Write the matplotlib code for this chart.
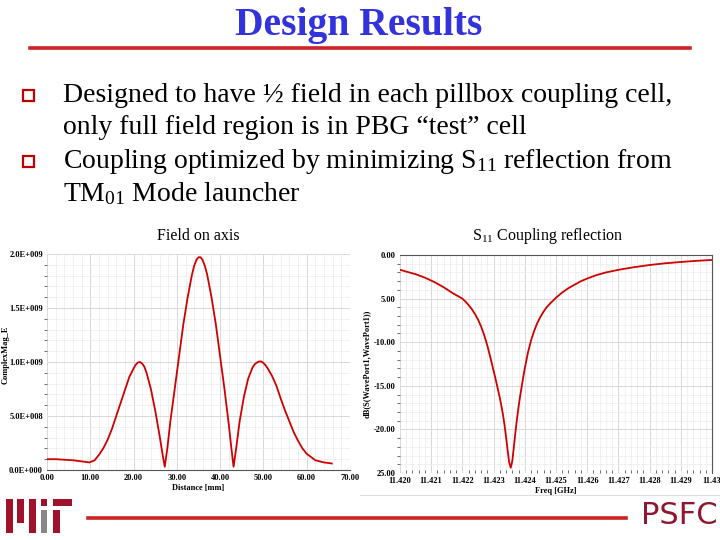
import matplotlib
matplotlib.use("Agg")
import matplotlib.pyplot as plt
from matplotlib.patches import Rectangle
from matplotlib.lines import Line2D
from matplotlib.ticker import MultipleLocator

plt.rcParams['font.family'] = ['Liberation Serif', 'DejaVu Serif']
plt.rcParams['mathtext.fontset'] = 'custom'
plt.rcParams['mathtext.rm'] = 'Liberation Serif'
plt.rcParams['mathtext.it'] = 'Liberation Serif:italic'
plt.rcParams['mathtext.bf'] = 'Liberation Serif:bold'

# ---------------- data ----------------
distance_mm = [0, 2, 4, 6, 8, 9.8, 11, 12, 13, 14, 15, 16, 17, 18, 19, 20, 20.5, 21, 21.5,
               22, 22.5, 23, 24, 25, 26, 26.8, 27.2, 27.8, 28.5, 29.5, 30.5, 31.5, 32.5,
               33.5, 34, 34.5, 35, 35.5, 36, 36.5, 37, 38, 39, 40, 41, 42, 42.6, 43.1, 43.7,
               44.5, 45.5, 46.5, 47.5, 48, 48.5, 49, 49.5, 50, 50.5, 51, 52, 53, 54, 55, 56,
               57, 58, 59, 60, 61, 62, 63, 64, 65, 65.8]
field_e9 = [0.10, 0.10, 0.095, 0.09, 0.08, 0.07, 0.09, 0.14, 0.20, 0.28, 0.38, 0.50, 0.62,
            0.74, 0.86, 0.94, 0.975, 0.995, 1.00, 0.985, 0.955, 0.90, 0.75, 0.55, 0.32,
            0.12, 0.03, 0.20, 0.45, 0.75, 1.05, 1.35, 1.60, 1.81, 1.89, 1.945, 1.97, 1.97,
            1.94, 1.885, 1.81, 1.60, 1.35, 1.05, 0.75, 0.42, 0.20, 0.03, 0.20, 0.45, 0.68,
            0.85, 0.95, 0.98, 0.995, 1.005, 1.005, 0.99, 0.97, 0.94, 0.87, 0.78, 0.66, 0.55,
            0.45, 0.35, 0.27, 0.20, 0.15, 0.12, 0.09, 0.08, 0.07, 0.065, 0.06]
field_scale = 1e9

freq_ghz = [11.4199, 11.4202, 11.4205, 11.4208, 11.4211, 11.4214, 11.4217, 11.4220, 11.4221,
            11.4222, 11.4223, 11.4224, 11.4225, 11.4226, 11.4227, 11.4228, 11.4229, 11.4230,
            11.42305, 11.4231, 11.42315, 11.4232, 11.42325, 11.4233, 11.42335, 11.4234,
            11.42345, 11.4235, 11.42355, 11.4236, 11.42365, 11.4237, 11.42375, 11.4238,
            11.42385, 11.4239, 11.42395, 11.4240, 11.4241, 11.4242, 11.4243, 11.4244,
            11.4245, 11.4246, 11.4247, 11.4248, 11.4250, 11.4252, 11.4254, 11.4256, 11.4258,
            11.4260, 11.4263, 11.4266, 11.4270, 11.4275, 11.4280, 11.4285, 11.4290, 11.4295,
            11.4300]
s11_db = [-1.6, -1.9, -2.2, -2.6, -3.1, -3.7, -4.4, -5.0, -5.35, -5.75, -6.2, -6.75, -7.4,
          -8.2, -9.2, -10.4, -11.8, -13.3, -14.0, -14.8, -15.6, -16.4, -17.3, -18.3, -19.5,
          -20.9, -22.4, -23.8, -24.4, -23.6, -22.0, -20.3, -18.8, -17.4, -16.2, -15.1,
          -14.0, -13.0, -11.2, -9.8, -8.7, -7.8, -7.1, -6.5, -6.0, -5.6, -4.9, -4.3, -3.8,
          -3.4, -3.0, -2.7, -2.3, -2.0, -1.7, -1.4, -1.15, -0.95, -0.8, -0.67, -0.57]

left_xticks = [0, 10, 20, 30, 40, 50, 60, 70]
left_yticks = [0, 0.5e9, 1.0e9, 1.5e9, 2.0e9]
left_yticklabels = ["0.0E+000", "5.0E+008", "1.0E+009", "1.5E+009", "2.0E+009"]
right_xticks = [11.420, 11.421, 11.422, 11.423, 11.424, 11.425, 11.426, 11.427, 11.428, 11.429, 11.430]
right_xticklabels = ["11.420", "11.421", "11.422", "11.423", "11.424", "11.425", "11.426",
                     "11.427", "11.428", "11.429", "11.43"]
right_yticks = [0, -5, -10, -15, -20, -25]
right_yticklabels = ["0.00", "5.00", "-10.00", "-15.00", "-20.00", "25.00"]

# ---------------- figure ----------------
W, H = 720, 540
fig = plt.figure(figsize=(7.2, 5.4), dpi=100)
fig.patch.set_facecolor('white')

def fx(x):
    return x / W

def fy(y):
    return 1 - y / H

RED = '#cc2222'
BLUE = '#3333dd'
LOGO = '#a0112b'

# title
fig.text(fx(359), fy(25), "Design Results", ha='center', va='center', fontsize=28.5,
         fontweight='bold', color=BLUE)
fig.add_artist(Line2D([fx(30), fx(690)], [fy(48), fy(48)], color=RED, lw=2.6))

# bullets
for by in [95, 161]:
    fig.add_artist(Rectangle((fx(23), fy(by + 6)), 11 / W, 11 / H,
                             transform=fig.transFigure, facecolor='white',
                             edgecolor='#c00000', lw=1.6))

bullet_lines = [
    (95, "Designed to have ½ field in each pillbox coupling cell,"),
    (127, "only full field region is in PBG \u201ctest\u201d cell"),
    (161, r"Coupling optimized by minimizing S$_{\mathrm{11}}$ reflection from"),
    (194, r"TM$_{\mathrm{01}}$ Mode launcher"),
]
for y, t in bullet_lines:
    fig.text(fx(63), fy(y), t, ha='left', va='center', fontsize=20, color='black')

# subtitles
fig.text(fx(198), fy(236), "Field on axis", ha='center', va='center', fontsize=11.5)
fig.text(fx(548), fy(236), r"S$_{\mathrm{11}}$ Coupling reflection", ha='center',
         va='center', fontsize=11.5)

# -------- left plot --------
axL = fig.add_axes([fx(47), fy(470), (350 - 47) / W, (470 - 254) / H])
axL.plot(distance_mm, [v * field_scale for v in field_e9], color='#d00000', lw=1.3)
axL.set_xlim(0, 70)
axL.set_ylim(0, 2.0e9)
axL.set_xticks(left_xticks)
axL.set_xticklabels([f"{v:.2f}" for v in left_xticks])
axL.set_yticks(left_yticks)
axL.set_yticklabels(left_yticklabels)
axL.xaxis.set_minor_locator(MultipleLocator(2))
axL.yaxis.set_minor_locator(MultipleLocator(0.1e9))
axL.grid(which='major', color='#d8d8d8', lw=0.7)
axL.grid(which='minor', color='#ececec', lw=0.5)
for s in ['top', 'right', 'left']:
    axL.spines[s].set_visible(False)
axL.spines['bottom'].set_color('#555555')
axL.spines['bottom'].set_linewidth(0.8)
axL.tick_params(axis='both', which='major', labelsize=6, length=0, pad=3)
axL.tick_params(axis='y', which='minor', length=2.5, color='#555555', width=0.6)
axL.tick_params(axis='x', which='minor', length=0)
for lab in axL.get_xticklabels() + axL.get_yticklabels():
    lab.set_fontweight('bold')
axL.set_xlabel("Distance [mm]", fontsize=6, fontweight='bold', labelpad=1)
axL.set_axisbelow(True)
fig.text(fx(6), fy(355), "ComplexMag_E", rotation=90, ha='center', va='center',
         fontsize=6, fontweight='bold')

# -------- right plot --------
axR = fig.add_axes([fx(400), fy(473), (712 - 400) / W, (473 - 255) / H])
axR.plot(freq_ghz, s11_db, color='#d00000', lw=1.3)
axR.set_xlim(11.420, 11.430)
axR.set_ylim(-25, 0)
axR.set_xticks(right_xticks)
axR.set_xticklabels(right_xticklabels)
axR.set_yticks(right_yticks)
axR.set_yticklabels(right_yticklabels)
axR.xaxis.set_minor_locator(MultipleLocator(0.0002))
axR.yaxis.set_minor_locator(MultipleLocator(1))
axR.grid(which='major', color='#d8d8d8', lw=0.7)
axR.grid(which='minor', color='#ececec', lw=0.5)
for s in ['left', 'bottom']:
    axR.spines[s].set_visible(False)
for s in ['top', 'right']:
    axR.spines[s].set_color('#555555')
    axR.spines[s].set_linewidth(0.8)
axR.tick_params(axis='both', which='major', labelsize=6, length=0, pad=3)
axR.tick_params(axis='y', which='minor', length=2.5, color='#555555', width=0.6)
axR.tick_params(axis='x', which='minor', length=2, color='#555555', width=0.6, direction='in')
for lab in axR.get_xticklabels() + axR.get_yticklabels():
    lab.set_fontweight('bold')
axR.set_xlabel("Freq [GHz]", fontsize=6, fontweight='bold', labelpad=1)
axR.set_axisbelow(True)
fig.text(fx(367), fy(364), "dB(S(WavePort1,WavePort1))", rotation=90, ha='center',
         va='center', fontsize=6, fontweight='bold')

# image border line under right plot
fig.add_artist(Line2D([fx(360), fx(720)], [fy(495), fy(495)], color='#dddddd', lw=0.8))

# -------- footer --------
fig.add_artist(Line2D([fx(88), fx(626)], [fy(518), fy(518)], color=RED, lw=2.6))

# MIT logo bars: (x0, y_top, x1, y_bottom, color)
mit_bars = [
    (6, 499, 13, 533, LOGO),
    (17, 499, 24, 523, LOGO),
    (29, 499, 36, 533, LOGO),
    (41, 499, 47, 506, LOGO),
    (41, 510, 47, 533, '#888888'),
    (53, 499, 72, 506, LOGO),
    (53, 510, 60, 533, LOGO),
]
for x0, y0, x1, y1, c in mit_bars:
    fig.add_artist(Rectangle((fx(x0), fy(y1)), (x1 - x0) / W, (y1 - y0) / H,
                             transform=fig.transFigure, facecolor=c, edgecolor='none'))

fig.text(fx(679), fy(516), "PSFC", ha='center', va='center', fontsize=22,
         color='#8f1530', family=['DejaVu Sans'])

fig.savefig("out.png", dpi=100)
